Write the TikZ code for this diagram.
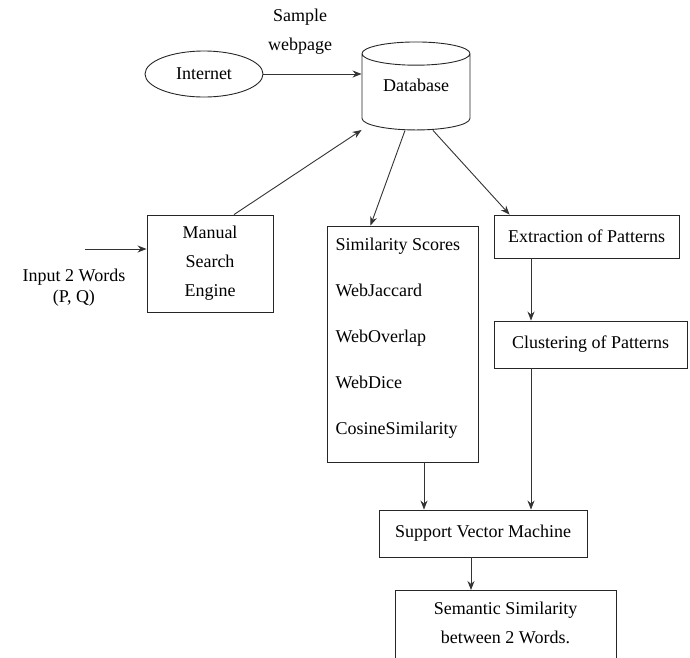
\documentclass[tikz,border=0pt]{standalone}
\usepackage{fontspec}
\setmainfont{Liberation Serif}
\usetikzlibrary{shapes.geometric, arrows.meta, positioning}

\begin{document}
\begin{tikzpicture}[x=1pt, y=-1pt, every node/.style={font=\fontsize{18}{29}\selectfont, text=black},
    box/.style={rectangle, draw=black!85, line width=0.9pt, align=center},
    store/.style={cylinder, shape border rotate=90, draw=black!85, line width=0.9pt, aspect=0.32},
    source/.style={ellipse, draw=black!85, line width=0.9pt, inner sep=0pt},
    arrow/.style={->, line width=0.9pt, draw=black!80, >={Stealth[length=9pt, width=7pt]}}]

\useasboundingbox (0,0) rectangle (690,657);
\clip (0,0) rectangle (690,657);

% Sources
\node[source, minimum width=118, minimum height=46] (inet) at (204,74) {Internet};
\node[store, minimum width=108, minimum height=88] (db) at (416,94) {\phantom{Database}};
\node (dbname) at (416,85) {Database};
\node[align=center] (sample) at (300,32) {Sample\\webpage};

% Query input
\node[box, minimum width=126, minimum height=97] (manual) at (210,263.5) {Manual\\Search\\Engine};
\coordinate (inp) at (85,249);
\node[align=center, font=\fontsize{18}{21}\selectfont] (words) at (74,288) {Input 2 Words\\(P, Q)};

% Similarity scores
\node[box, minimum width=151, minimum height=236] (sim) at (402.5,344) {};
\node[align=left, anchor=west, font=\fontsize{18}{46}\selectfont] (scores) at (332,338)
  {Similarity Scores\\WebJaccard\\WebOverlap\\WebDice\\CosineSimilarity};

% Pattern branch
\node[box, minimum width=185, minimum height=43] (extract) at (586.5,236.5) {Extraction of Patterns};
\node[box, minimum width=193, minimum height=47] (cluster) at (590.5,344.5) {Clustering of Patterns};

% Output
\node[box, minimum width=208, minimum height=47] (svm) at (483,533.5) {Support Vector Machine};
\node[box, minimum width=221, minimum height=80, anchor=north] (semantic) at (505.5,590) {};
\node[align=center] (result) at (505.5,622.5) {Semantic Similarity\\between 2 Words.};

% Arrows
\draw[arrow] (inet.east) -- (db.west |- inet.east);
\draw[arrow] (inp) -- (manual.west |- inp);
\draw[arrow] ([xshift=24pt]manual.north) -- ([yshift=-36pt]db.west);
\draw[arrow] ([xshift=-11pt]db.south) -- ([xshift=-32pt]sim.north);
\draw[arrow] ([xshift=17pt]db.south) -- ([xshift=16pt]extract.north west);
\draw[arrow] ([xshift=-55.5pt]extract.south) -- ([xshift=-55.5pt]extract.south |- cluster.north);
\draw[arrow] ([xshift=21.5pt]sim.south) -- ([xshift=21.5pt]sim.south |- svm.north);
\draw[arrow] ([xshift=-59.5pt]cluster.south) -- ([xshift=-59.5pt]cluster.south |- svm.north);
\draw[arrow] ([xshift=-12pt]svm.south) -- ([xshift=-12pt]svm.south |- semantic.north);

\end{tikzpicture}
\end{document}
